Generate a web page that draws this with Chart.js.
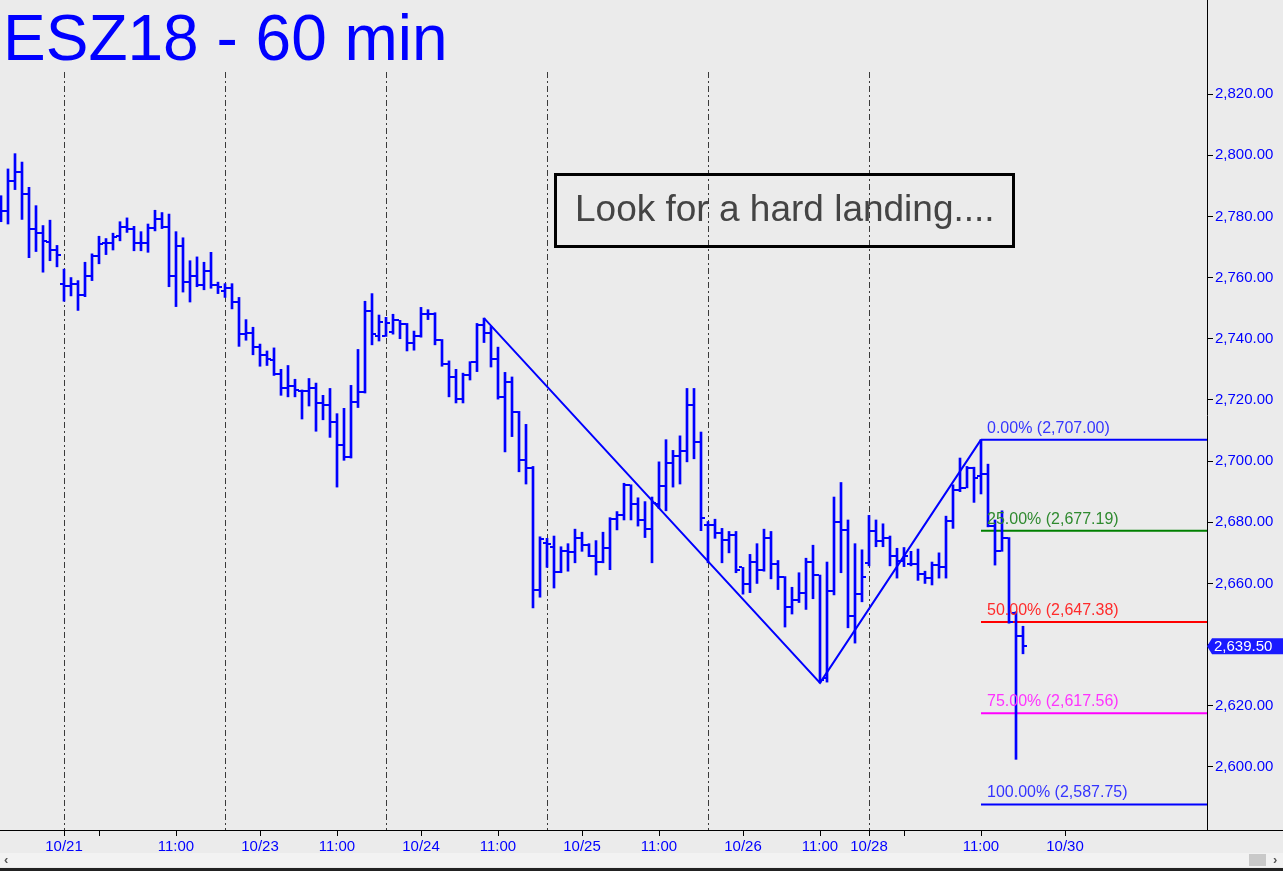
<!DOCTYPE html>
<html>
<head>
<meta charset="utf-8">
<title>ESZ18 - 60 min</title>
<script src="https://cdn.jsdelivr.net/npm/chart.js@4.4.1/dist/chart.umd.min.js"></script>
<style>
  html, body { margin: 0; padding: 0; background: #ebebeb; }
  canvas { display: block; }
</style>
</head>
<body>
<canvas id="esChart" width="1283" height="871"></canvas>
<script>
// ESZ18 hourly bars, bar index 0..146
const opens = [
  2783, 2781.75, 2791.5, 2794.5, 2787.25, 2775.75, 2774.5, 2771.5, 2769, 2758,
  2757.25, 2758, 2754.25, 2760.5, 2767, 2771.25, 2771.25, 2773.5, 2776.5, 2776,
  2771.25, 2771.25, 2776.25, 2779, 2776.5, 2760.5, 2770.25, 2758.5, 2760.5, 2757.5,
  2762.25, 2757.5, 2755.75, 2756.5, 2752, 2741.5, 2742, 2737.25, 2734.75, 2733,
  2728.5, 2724, 2724.5, 2723, 2722.75, 2723.75, 2719, 2718.25, 2712.75, 2705.25,
  2701.25, 2719.25, 2722.5, 2749, 2741, 2741, 2742.25, 2746, 2744.75, 2738.75,
  2741, 2748, 2748, 2739.5, 2731.75, 2727.5, 2720.25, 2728, 2732.25, 2744.5,
  2742, 2733.5, 2721, 2726, 2716, 2700.5, 2697.75, 2658, 2673.25, 2672,
  2663.75, 2670.75, 2670.25, 2674.75, 2672.5, 2669, 2667, 2671.75, 2681, 2682.5,
  2692.25, 2686, 2680.75, 2677.75, 2686, 2691.75, 2699.5, 2701.5, 2703.25, 2718.25,
  2706.25, 2679.25, 2679.25, 2676.5, 2674.25, 2675.75, 2665.25, 2659.75, 2667, 2664.5,
  2674.75, 2666.5, 2662, 2652.25, 2654.5, 2657, 2667, 2662.75, 2629, 2657.5,
  2680, 2677.5, 2649.25, 2656.5, 2666.75, 2677.25, 2674, 2675, 2669, 2667.5,
  2666.5, 2666.5, 2663, 2661.75, 2666, 2665.25, 2680.25, 2690.5, 2691.25, 2697.75,
  2695, 2695.75, 2678.75, 2670.5, 2674.75, 2650.25, 2642.75
];
const highs = [
  2786.75, 2795.5, 2800.5, 2797.75, 2789.5, 2783.5, 2777, 2778.75, 2770.5, 2762.75,
  2760, 2759, 2765, 2767.75, 2773.5, 2772.75, 2774.5, 2778.25, 2779.5, 2776.75,
  2775, 2777.5, 2782, 2781.25, 2780.75, 2775, 2773, 2765.5, 2766.75, 2765,
  2768.25, 2758.5, 2758, 2758, 2753.5, 2746.25, 2743.75, 2738.25, 2736, 2737,
  2730, 2731.25, 2726.75, 2723.25, 2727, 2725.5, 2721.5, 2723.75, 2715.5, 2717.25,
  2724.75, 2736.5, 2752.25, 2754.75, 2747.75, 2747, 2748, 2746, 2745, 2742.5,
  2750.25, 2749.5, 2748.5, 2739.75, 2732.75, 2730, 2728.75, 2732.5, 2745, 2746.75,
  2744, 2737.25, 2729, 2727.5, 2716.25, 2712, 2698.25, 2675.25, 2674.75, 2675.5,
  2672, 2673, 2677.75, 2676.75, 2673, 2674, 2676.75, 2681.5, 2683.5, 2692.75,
  2692.25, 2688, 2686.75, 2688.25, 2699.75, 2707, 2703.5, 2708.25, 2723.75, 2723.75,
  2709.5, 2680.25, 2681, 2678, 2677, 2677, 2665.25, 2669.5, 2673, 2677.75,
  2677, 2667.5, 2662.25, 2658.75, 2663.5, 2668.25, 2672.5, 2662.75, 2667, 2688.25,
  2693, 2680.75, 2673, 2671, 2682.25, 2680.75, 2679.5, 2675.5, 2671.5, 2671.75,
  2670.5, 2671.25, 2664, 2667, 2670, 2682, 2692.25, 2701, 2698.25, 2698,
  2707, 2699, 2680.75, 2683.75, 2675, 2650.75, 2646
];
const lows = [
  2778.25, 2777.5, 2788.75, 2779, 2766.5, 2768.5, 2761.75, 2765.5, 2763.5, 2752.25,
  2754, 2749.25, 2753.75, 2759, 2764.5, 2767.5, 2769, 2772, 2774.75, 2768.75,
  2768.75, 2768.25, 2775.25, 2776, 2757, 2750.5, 2755.25, 2752, 2757, 2756,
  2756.5, 2754.75, 2753.5, 2749.75, 2737.5, 2739.5, 2734.75, 2731, 2731.25, 2728,
  2721.5, 2721, 2721, 2713.75, 2718, 2709.75, 2713.5, 2707.75, 2691.5, 2700.25,
  2701, 2717.5, 2722.25, 2738, 2739.25, 2740.75, 2741.5, 2740, 2736, 2736.25,
  2740.5, 2746.25, 2738, 2731, 2721, 2719, 2719, 2726.5, 2729.25, 2738.75,
  2730.75, 2720.25, 2703, 2708, 2696.5, 2692.5, 2652, 2655.5, 2665.25, 2658.5,
  2663.5, 2664, 2666.75, 2670.5, 2668.75, 2662.75, 2666.75, 2664.5, 2677.5, 2680.75,
  2680.75, 2678.75, 2675, 2666.75, 2684.5, 2683.75, 2691.5, 2692.5, 2699.75, 2700.75,
  2677.25, 2666.75, 2674.75, 2666.75, 2670, 2663.5, 2656.5, 2657, 2660, 2664,
  2661.5, 2658, 2645.75, 2650, 2653.75, 2651.5, 2655, 2627.5, 2627.75, 2656.25,
  2663.5, 2645.5, 2640.5, 2654, 2665.75, 2672, 2672, 2665.75, 2661.75, 2665.5,
  2665.75, 2661, 2660, 2659.5, 2661.75, 2661.75, 2678, 2690, 2691.25, 2686.5,
  2689.25, 2678.5, 2666, 2670.5, 2647, 2602.5, 2637
];
const closes = [
  2781.75, 2791.5, 2794.5, 2787.25, 2776, 2774.5, 2772, 2769, 2767.25, 2757.25,
  2758, 2754.25, 2760.5, 2767, 2771, 2771.25, 2773.25, 2776.5, 2776, 2771.25,
  2771.25, 2776.25, 2779, 2776.5, 2760.5, 2770.25, 2758.5, 2760.5, 2757.5, 2762.25,
  2757.5, 2757, 2756.5, 2752, 2741.5, 2742, 2737.25, 2734.75, 2733.25, 2728.5,
  2724, 2724.5, 2723.25, 2722.75, 2723.75, 2719, 2718.25, 2712.75, 2705.25, 2701.25,
  2719.25, 2722.5, 2749, 2741.5, 2745.5, 2745, 2746.25, 2744.75, 2738.75, 2741,
  2748, 2748, 2739.5, 2731.75, 2727.5, 2720.25, 2728, 2732.25, 2744.5, 2742,
  2733.5, 2721, 2726, 2716, 2700.5, 2697.75, 2658, 2674.5, 2673, 2663.75,
  2670.75, 2670.25, 2674.75, 2672.5, 2669, 2667, 2671.75, 2681, 2682.5, 2692.25,
  2686, 2680.75, 2677.75, 2686.25, 2691.75, 2699.5, 2701.5, 2703.25, 2718.25, 2706.25,
  2681.5, 2679.25, 2676.5, 2674.25, 2675.75, 2664.5, 2659.75, 2667, 2664.5, 2674.75,
  2666.5, 2662, 2652.25, 2654.5, 2657, 2667, 2662.75, 2628.5, 2657.5, 2680,
  2677.5, 2649.25, 2656.5, 2662.25, 2677.25, 2674, 2675, 2669, 2667.5, 2669,
  2666.5, 2663, 2661.75, 2666, 2665.25, 2680.25, 2690.5, 2691.25, 2697.75, 2694.5,
  2695.75, 2678.75, 2670.5, 2674.75, 2647.5, 2642.75, 2639.5
];

// session starts (dashed separators) and time axis labels, as bar indices
const sessionStarts = [9, 32, 55, 78, 101, 124];
const tickBars = [9, 14, 25, 37, 48, 60, 71, 83, 94, 106, 117, 124, 129, 140, 152];
const tickLabels = ['10/21', '', '11:00', '10/23', '11:00', '10/24', '11:00', '10/25',
  '11:00', '10/26', '11:00', '10/28', '', '11:00', '10/30'];
const priceTicks = [2600, 2620, 2640, 2660, 2680, 2700, 2720, 2740, 2760, 2780, 2800, 2820];

// swing high -> swing low -> swing high
const swingBars = [69, 117, 140];
const swingPrices = [2746.75, 2627.5, 2707.0];

// projection levels drawn from the last swing high
const fibLevels = [2707.00, 2677.19, 2647.38, 2617.56, 2587.75];
const fibNames = ['0.00%', '25.00%', '50.00%', '75.00%', '100.00%'];
const fibColors = ['#0000ff', '#008000', '#ff0000', '#ff00ff', '#0000ff'];
const fibTextColors = ['#3535ff', '#2f8a2f', '#ff2b2b', '#ff33ff', '#3535ff'];

const lastPrice = 2639.50;

const FONT = '"Liberation Sans", Arial, sans-serif';
const X_MIN = -1 / 7;
const X_MAX = 1206 / 7;

function fmt(v) {
  return v.toLocaleString('en-US', { minimumFractionDigits: 2, maximumFractionDigits: 2 });
}

const rangeData = highs.map((h, i) => ({ x: i, y: [lows[i], h] }));
const swingData = swingBars.map((b, i) => ({ x: b, y: swingPrices[i] }));

const fibSets = fibLevels.map((lvl, i) => ({
  type: 'line',
  data: [{ x: swingBars[2], y: lvl }, { x: X_MAX, y: lvl }],
  borderColor: fibColors[i],
  borderWidth: 2,
  pointRadius: 0,
  order: 3
}));

const decor = {
  id: 'decor',
  beforeDraw(chart) {
    const ctx = chart.ctx;
    ctx.save();
    ctx.fillStyle = '#ebebeb';
    ctx.fillRect(0, 0, chart.width, chart.height);
    ctx.restore();
  },
  beforeDatasetsDraw(chart) {
    const { ctx, scales: { x }, chartArea } = chart;
    ctx.save();
    ctx.strokeStyle = '#3a3a3a';
    ctx.lineWidth = 1;
    ctx.setLineDash([6, 3, 2, 3]);
    sessionStarts.forEach(b => {
      const px = Math.round(x.getPixelForValue(b)) + 0.5;
      ctx.beginPath();
      ctx.moveTo(px, 72);
      ctx.lineTo(px, chartArea.bottom);
      ctx.stroke();
    });
    ctx.restore();
  },
  afterDatasetsDraw(chart) {
    const { ctx, scales: { x, y } } = chart;
    ctx.save();
    // open (left) and close (right) ticks
    ctx.fillStyle = '#0000ff';
    opens.forEach((o, i) => {
      const px = Math.round(x.getPixelForValue(i));
      const yo = Math.round(y.getPixelForValue(o));
      const yc = Math.round(y.getPixelForValue(closes[i]));
      ctx.fillRect(px - 4, yo - 1, 3, 2);
      ctx.fillRect(px + 1, yc - 1, 3, 2);
    });
    // level labels
    ctx.font = '16px ' + FONT;
    ctx.textBaseline = 'alphabetic';
    const lx = x.getPixelForValue(swingBars[2]) + 6;
    fibLevels.forEach((lvl, i) => {
      ctx.fillStyle = fibTextColors[i];
      ctx.fillText(fibNames[i] + ' (' + fmt(lvl) + ')', lx, y.getPixelForValue(lvl) - 7);
    });
    ctx.restore();
  },
  afterDraw(chart) {
    const { ctx, scales: { y }, chartArea } = chart;
    ctx.save();
    // axis line continues under the price scale
    ctx.strokeStyle = '#000';
    ctx.lineWidth = 1;
    ctx.beginPath();
    ctx.moveTo(chartArea.right, chartArea.bottom + 0.5);
    ctx.lineTo(chart.width, chartArea.bottom + 0.5);
    ctx.stroke();

    // title
    ctx.fillStyle = '#0000ff';
    ctx.font = '64px ' + FONT;
    ctx.textBaseline = 'alphabetic';
    ctx.fillText('ESZ18 - 60 min', 3, 60);

    // note box
    ctx.strokeStyle = '#000';
    ctx.lineWidth = 3;
    ctx.strokeRect(555.5, 174.5, 458, 72);
    ctx.fillStyle = '#444444';
    ctx.font = '37px ' + FONT;
    ctx.fillText('Look for a hard landing....', 575, 221);

    // last price tag
    const py = y.getPixelForValue(lastPrice);
    ctx.fillStyle = '#1a1aff';
    ctx.beginPath();
    ctx.moveTo(chartArea.right, py);
    ctx.lineTo(chartArea.right + 5, py - 8);
    ctx.lineTo(chart.width, py - 8);
    ctx.lineTo(chart.width, py + 8);
    ctx.lineTo(chartArea.right + 5, py + 8);
    ctx.closePath();
    ctx.fill();
    ctx.fillStyle = '#ffffff';
    ctx.font = '15px ' + FONT;
    ctx.textBaseline = 'middle';
    ctx.fillText(fmt(lastPrice), chartArea.right + 7, py + 1);

    // scrollbar strip
    ctx.fillStyle = '#f2f2f2';
    ctx.fillRect(0, 853, chart.width, 14);
    ctx.fillStyle = '#c9c9c9';
    ctx.fillRect(1249, 854, 17, 12);
    ctx.fillStyle = '#555';
    ctx.font = 'bold 13px ' + FONT;
    ctx.fillText('\u2039', 4, 860);
    ctx.fillText('\u203a', 1273, 860);
    ctx.strokeStyle = '#222';
    ctx.beginPath();
    ctx.moveTo(0, 869.5);
    ctx.lineTo(chart.width, 869.5);
    ctx.stroke();
    ctx.restore();
  }
};

const ctx = document.getElementById('esChart').getContext('2d');
const esChart = new Chart(ctx, {
  type: 'bar',
  data: {
    datasets: [
      {
        type: 'line',
        data: swingData,
        borderColor: '#0000ff',
        borderWidth: 2,
        pointRadius: 0,
        order: 2
      },
      ...fibSets,
      {
        type: 'bar',
        data: rangeData,
        backgroundColor: '#0000ff',
        borderWidth: 0,
        barThickness: 2,
        order: 1
      }
    ]
  },
  options: {
    responsive: false,
    animation: false,
    events: [],
    layout: { padding: 0 },
    plugins: {
      legend: { display: false },
      tooltip: { enabled: false }
    },
    scales: {
      x: {
        type: 'linear',
        offset: false,
        min: X_MIN,
        max: X_MAX,
        afterBuildTicks: scale => { scale.ticks = tickBars.map(v => ({ value: v })); },
        afterFit: scale => {
          scale.height = 41;
          scale.paddingLeft = 0;
          scale.paddingRight = 0;
        },
        grid: { drawOnChartArea: false, offset: false, color: '#000', tickLength: 6 },
        border: { color: '#000' },
        ticks: {
          autoSkip: false,
          maxRotation: 0,
          padding: 2,
          color: '#0000ff',
          font: { family: FONT, size: 15 },
          callback: (v, i) => tickLabels[i]
        }
      },
      y: {
        position: 'right',
        min: 2579.4,
        max: 2850.73,
        afterBuildTicks: scale => { scale.ticks = priceTicks.map(v => ({ value: v })); },
        afterFit: scale => {
          scale.width = 76;
          scale.paddingTop = 0;
          scale.paddingBottom = 0;
        },
        grid: { drawOnChartArea: false, color: '#000', tickLength: 6 },
        border: { color: '#000' },
        ticks: {
          padding: 2,
          color: '#0000ff',
          font: { family: FONT, size: 15 },
          callback: v => fmt(v)
        }
      }
    }
  },
  plugins: [decor]
});
</script>
</body>
</html>
